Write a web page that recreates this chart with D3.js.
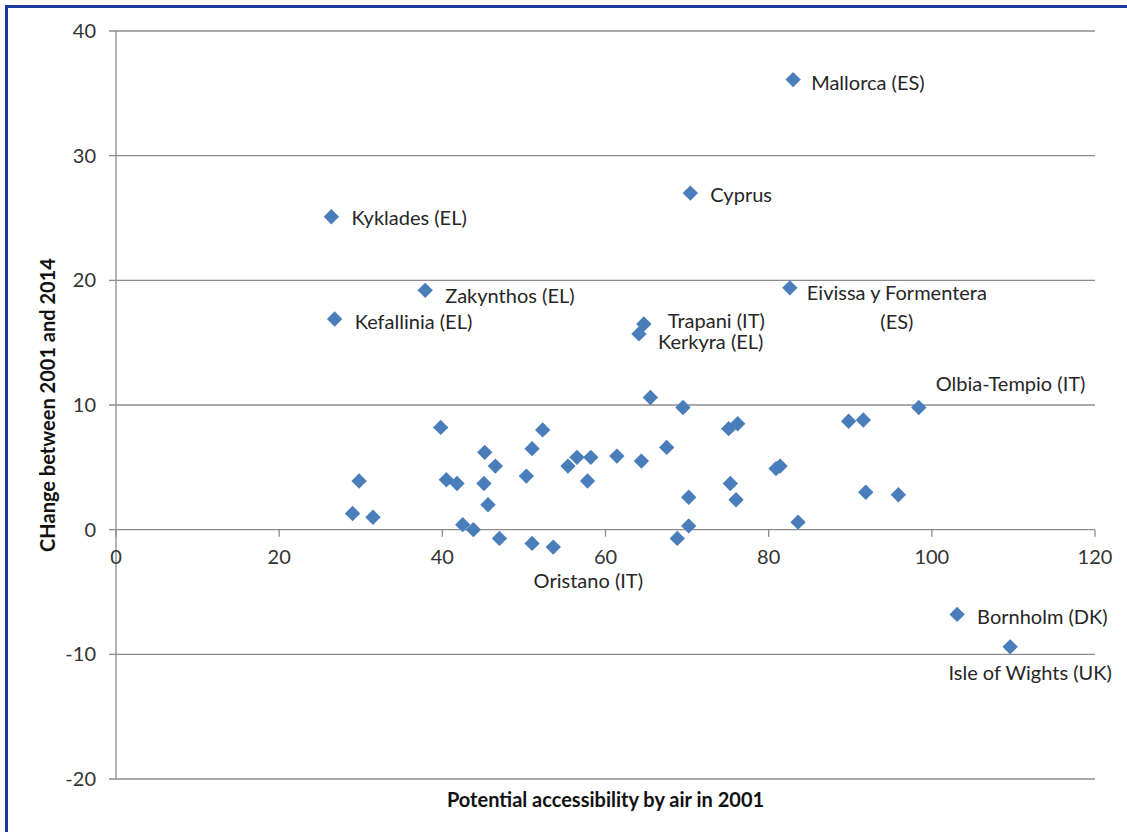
<!DOCTYPE html>
<html>
<head>
<meta charset="utf-8">
<style>
body { margin: 0; background: #fff; }
text { font-family: Lato, "Open Sans", sans-serif; fill: #262626; }
.grid line { stroke: #8c8c8c; stroke-width: 1.3; }
.axis-title { font-weight: bold; font-size: 20px; fill: #111; }
.tick-label { font-size: 20px; fill: #333; }
.point-label { font-size: 20px; fill: #262626; }
.point { fill: #4a7ebb; }
</style>
</head>
<body>
<svg width="1127" height="832"></svg>
<script src="https://cdn.jsdelivr.net/npm/d3@7"></script>
<script>
// labelled regions
var labelNames = ["Mallorca (ES)", "Cyprus", "Kyklades (EL)", "Zakynthos (EL)", "Kefallinia (EL)",
  "Eivissa y Formentera|(ES)", "Trapani (IT)", "Kerkyra (EL)", "Olbia-Tempio (IT)",
  "Oristano (IT)", "Bornholm (DK)", "Isle of Wights (UK)"];
var labelX = [83.0, 70.4, 26.4, 37.9, 26.8, 82.6, 64.7, 64.1, 98.4, 53.6, 103.1, 109.6];
var labelY = [36.1, 27.0, 25.1, 19.2, 16.9, 19.4, 16.5, 15.7, 9.8, -1.4, -6.8, -9.4];

// other regions (no label)
var otherX = [29.8, 29.0, 31.5, 39.8, 40.5, 41.8, 45.2, 46.5, 45.1, 45.6, 42.5, 43.8, 47.0,
  50.3, 51.0, 52.3, 51.0, 55.4, 56.5, 58.2, 57.8, 61.4, 64.4, 67.5, 65.5, 69.5, 68.8,
  70.2, 70.2, 75.1, 76.2, 75.3, 76.0, 80.9, 81.4, 83.6, 89.8, 91.6, 91.9, 95.9];
var otherY = [3.9, 1.3, 1.0, 8.2, 4.0, 3.7, 6.2, 5.1, 3.7, 2.0, 0.4, 0.0, -0.7,
  4.3, 6.5, 8.0, -1.1, 5.1, 5.8, 5.8, 3.9, 5.9, 5.5, 6.6, 10.6, 9.8, -0.7,
  2.6, 0.3, 8.1, 8.5, 3.7, 2.4, 4.9, 5.1, 0.6, 8.7, 8.8, 3.0, 2.8];

var xTicks = [0, 20, 40, 60, 80, 100, 120];
var yTicks = [-20, -10, 0, 10, 20, 30, 40];

var xTitle = "Potential accessibility by air in 2001";
var yTitle = "CHange between 2001 and 2014";

// where each label sits relative to its point
var labelPlace = {
  "Mallorca (ES)": [18, 3, "start"],
  "Cyprus": [20, 2, "start"],
  "Kyklades (EL)": [20, 1, "start"],
  "Zakynthos (EL)": [20, 6, "start"],
  "Kefallinia (EL)": [20, 3, "start"],
  "Eivissa y Formentera|(ES)": [107, 5, "middle"],
  "Trapani (IT)": [24, -3, "start"],
  "Kerkyra (EL)": [19, 8, "start"],
  "Olbia-Tempio (IT)": [17, -23, "start"],
  "Oristano (IT)": [35, 34, "middle"],
  "Bornholm (DK)": [20, 3, "start"],
  "Isle of Wights (UK)": [20, 26, "middle"]
};

var svg = d3.select("svg"),
    plotLeft = 116, plotRight = 1095, plotTop = 31, plotBottom = 779;

var x = d3.scaleLinear().domain([0, 120]).range([plotLeft, plotRight]);
var y = d3.scaleLinear().domain([-20, 40]).range([plotBottom, plotTop]);

// frame (only top and left edge visible in the crop)
svg.append("rect")
  .attr("x", 6.5).attr("y", 6.5)
  .attr("width", 1140).attr("height", 850)
  .attr("fill", "none")
  .attr("stroke", "#1c3a9e")
  .attr("stroke-width", 3);

// horizontal gridlines
svg.append("g")
  .attr("class", "grid")
  .selectAll("line")
  .data(yTicks)
  .enter().append("line")
  .attr("x1", plotLeft - 7).attr("x2", plotRight)
  .attr("y1", function(d) { return y(d); })
  .attr("y2", function(d) { return y(d); });

// y axis line
svg.append("line")
  .attr("x1", plotLeft).attr("x2", plotLeft)
  .attr("y1", plotTop).attr("y2", plotBottom)
  .attr("stroke", "#8c8c8c").attr("stroke-width", 1.3);

// x tick marks hang down from the zero line
svg.append("g")
  .attr("class", "grid")
  .selectAll("line")
  .data(xTicks)
  .enter().append("line")
  .attr("x1", function(d) { return x(d); })
  .attr("x2", function(d) { return x(d); })
  .attr("y1", y(0)).attr("y2", y(0) + 7);

svg.selectAll(".ytl")
  .data(yTicks)
  .enter().append("text")
  .attr("class", "tick-label")
  .attr("x", plotLeft - 20)
  .attr("y", function(d) { return y(d); })
  .attr("dy", "0.35em")
  .attr("text-anchor", "end")
  .text(function(d) { return d; });

svg.selectAll(".xtl")
  .data(xTicks)
  .enter().append("text")
  .attr("class", "tick-label")
  .attr("x", function(d) { return x(d); })
  .attr("y", y(0) + 27)
  .attr("dy", "0.35em")
  .attr("text-anchor", "middle")
  .text(function(d) { return d; });

// axis titles
svg.append("text")
  .attr("class", "axis-title")
  .attr("x", (plotLeft + plotRight) / 2)
  .attr("y", 800)
  .attr("dy", "0.35em")
  .attr("text-anchor", "middle")
  .text(xTitle);

svg.append("text")
  .attr("class", "axis-title")
  .attr("transform", "translate(48," + (plotTop + plotBottom) / 2 + ") rotate(-90)")
  .attr("dy", "0.35em")
  .attr("text-anchor", "middle")
  .text(yTitle);

var points = otherX.map(function(d, i) { return {x: d, y: otherY[i]}; })
  .concat(labelNames.map(function(d, i) { return {x: labelX[i], y: labelY[i], name: d}; }));

var diamond = d3.symbol().type(d3.symbolSquare).size(118);

svg.selectAll(".point")
  .data(points)
  .enter().append("path")
  .attr("class", "point")
  .attr("d", diamond)
  .attr("transform", function(d) { return "translate(" + x(d.x) + "," + y(d.y) + ") rotate(45)"; });

var labels = svg.selectAll(".point-label")
  .data(points.filter(function(d) { return d.name; }))
  .enter().append("text")
  .attr("class", "point-label")
  .attr("text-anchor", function(d) { return labelPlace[d.name][2]; })
  .attr("transform", function(d) {
    var p = labelPlace[d.name];
    return "translate(" + (x(d.x) + p[0]) + "," + (y(d.y) + p[1]) + ")";
  });

labels.selectAll("tspan")
  .data(function(d) { return d.name.split("|"); })
  .enter().append("tspan")
  .attr("x", 0)
  .attr("dy", function(d, i) { return i ? "1.45em" : "0.35em"; })
  .text(function(d) { return d; });
</script>
</body>
</html>
